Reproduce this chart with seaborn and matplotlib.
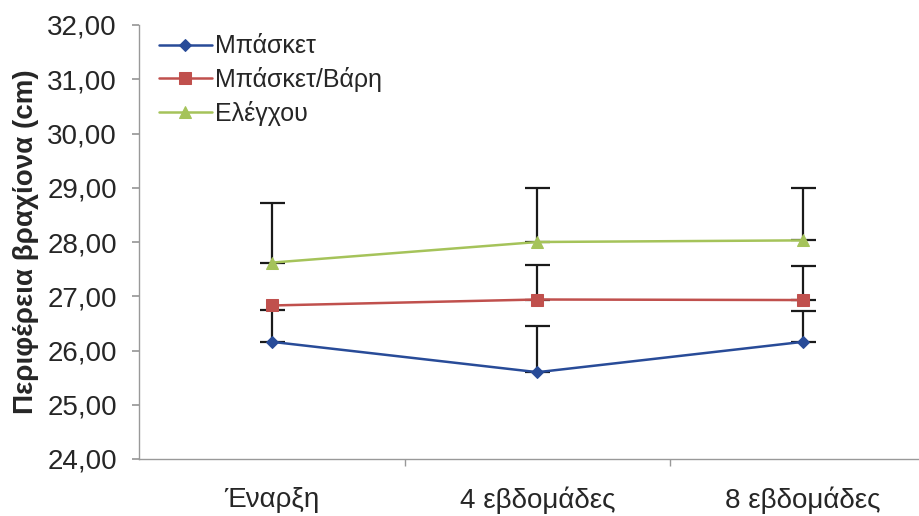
import numpy as np
import pandas as pd
import matplotlib
matplotlib.use("Agg")
import matplotlib.pyplot as plt
import seaborn as sns

categories = ["Έναρξη", "4 εβδομάδες", "8 εβδομάδες"]
series_names = ["Μπάσκετ", "Μπάσκετ/Βάρη", "Ελέγχου"]
basket = [26.16, 25.60, 26.16]
basket_err = [0.59, 0.85, 0.57]
basket_weights = [26.83, 26.94, 26.93]
basket_weights_err = [0.0, 0.63, 0.63]
control = [27.62, 28.00, 28.03]
control_err = [1.10, 1.00, 0.97]
y_ticks = [24, 25, 26, 27, 28, 29, 30, 31, 32]

sns.set_theme(style="white")
plt.rcParams['font.family'] = ['Liberation Sans', 'DejaVu Sans']

colors = ["#284B98", "#C0504D", "#A5C35A"]
markers = ["D", "s", "^"]
msizes = [6, 8, 9]

rows = []
for name, vals in zip(series_names, [basket, basket_weights, control]):
    for i, v in enumerate(vals):
        rows.append({"x": i, "value": v, "series": name})
df = pd.DataFrame(rows)

fig = plt.figure(figsize=(9.2, 5.16), dpi=100)
ax = fig.add_axes([139/920, 57/516, 797/920, (459-25)/516])

errs = [basket_err, basket_weights_err, control_err]
for name, vals, err in zip(series_names, [basket, basket_weights, control], errs):
    x = np.arange(len(vals))
    mask = np.array(err) > 0
    ax.errorbar(x[mask], np.array(vals)[mask],
                yerr=[np.zeros(mask.sum()), np.array(err)[mask]], fmt='none',
                ecolor='#1a1a1a', elinewidth=1.6, capsize=9, capthick=1.6, zorder=2)

for name, c, m, ms in zip(series_names, colors, markers, msizes):
    sub = df[df.series == name]
    sns.lineplot(data=sub, x="x", y="value", color=c, marker=m, markersize=ms,
                 markeredgecolor=c, linewidth=1.8, ax=ax, label=name, zorder=3)

ax.set_xlim(-0.5, 2.5)
ax.set_ylim(24, 32)
ax.set_yticks(y_ticks)
ax.set_yticklabels([f"{t:.2f}".replace(".", ",") for t in y_ticks], fontsize=20)
ax.set_xticks(range(len(categories)))
ax.set_xticklabels(categories, fontsize=20)
ax.set_xticks([0.5, 1.5], minor=True)
ax.tick_params(axis='x', which='major', length=0, pad=20)
ax.tick_params(axis='x', which='minor', length=5, color='#999999', direction='out', bottom=True)
ax.tick_params(axis='y', which='major', length=5, color='#999999', direction='out', left=True, pad=11)
ax.set_xlabel("")
ax.set_ylabel("Περιφέρεια βραχίονα (cm)", fontsize=20, fontweight='bold', labelpad=6)

for s in ["top", "right"]:
    ax.spines[s].set_visible(False)
for s in ["left", "bottom"]:
    ax.spines[s].set_color('#999999')
    ax.spines[s].set_linewidth(1.0)

leg = ax.legend(loc='upper left', bbox_to_anchor=(-0.003, 1.03), frameon=False,
                fontsize=18, handlelength=2.1, labelspacing=0.35, handletextpad=0.15)

fig.savefig("out.png", dpi=100)
